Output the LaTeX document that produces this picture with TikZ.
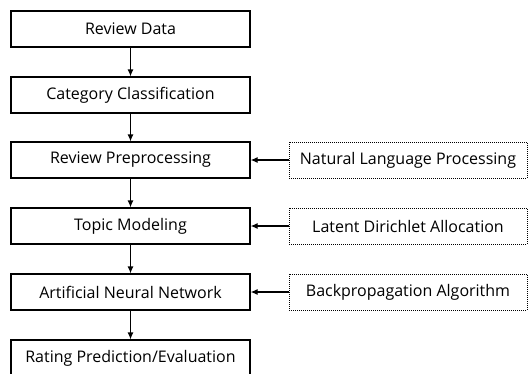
\documentclass[tikz,border=0pt]{standalone}
\usepackage{fontspec}
\setmainfont{Open Sans}
\usetikzlibrary{arrows.meta}
\begin{document}
\begin{tikzpicture}[x=1pt,y=-1pt,
  mainbox/.style={draw=black, line width=1.2pt, minimum width=239pt, minimum height=36pt, inner sep=0pt, font=\fontsize{16}{19}\selectfont},
  sidebox/.style={draw=black, line width=1pt, dash pattern=on 1pt off 1pt, minimum width=238pt, minimum height=36pt, inner sep=0pt, font=\fontsize{16}{19}\selectfont},
  conn/.style={line width=1.2pt, -{Latex[length=7pt,width=6pt]}}]
\useasboundingbox (0,0) rectangle (530,373);
\clip (0,0) rectangle (530,373);
\node[mainbox] (a) at (130.5,29) {Review Data};
\node[mainbox] (b) at (130.5,95) {Category Classification};
\node[mainbox] (c) at (130.5,160) {Review Preprocessing};
\node[mainbox] (d) at (130.5,226) {Topic Modeling};
\node[mainbox] (e) at (130.5,292) {Artificial Neural Network};
\node[mainbox] (f) at (130.5,358) {Rating Prediction/Evaluation};
\node[sidebox] (g) at (408,160) {Natural Language Processing};
\node[sidebox] (h) at (408,226) {Latent Dirichlet Allocation};
\node[sidebox] (i) at (408,292) {Backpropagation Algorithm};
\draw[conn] (a) -- (b);
\draw[conn] (b) -- (c);
\draw[conn] (c) -- (d);
\draw[conn] (d) -- (e);
\draw[conn] (e) -- (f);
\draw[conn] (g) -- (c);
\draw[conn] (h) -- (d);
\draw[conn] (i) -- (e);
\end{tikzpicture}
\end{document}
